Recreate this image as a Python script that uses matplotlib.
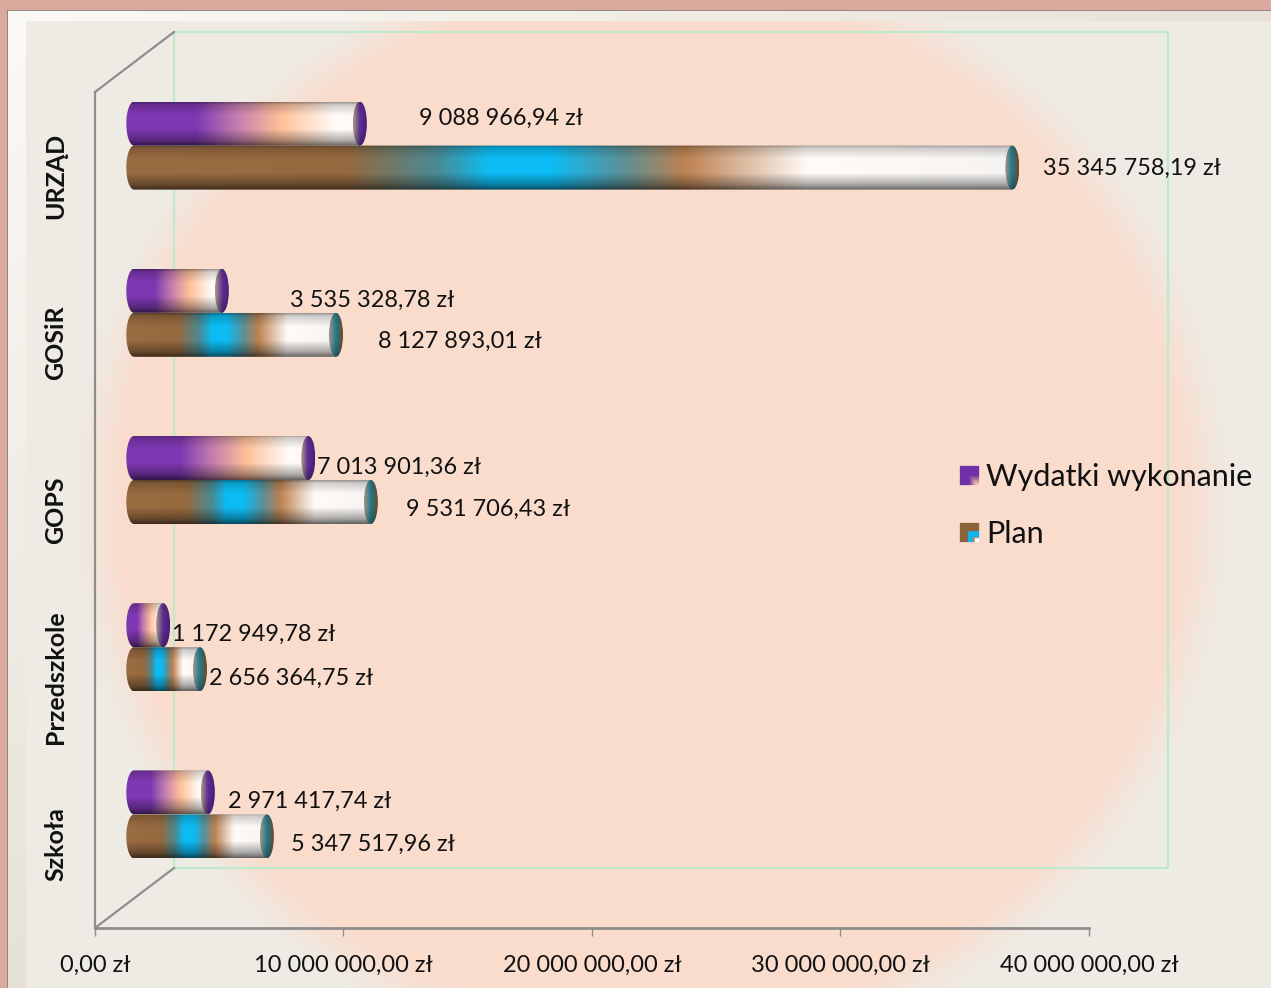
import numpy as np
import matplotlib
matplotlib.use("Agg")
import matplotlib.pyplot as plt
from matplotlib.colors import to_rgb
from matplotlib.patches import Rectangle, Ellipse, Polygon, Patch
from matplotlib.legend_handler import HandlerBase
from matplotlib.lines import Line2D

# ---- data ----
categories = ["Szkoła", "Przedszkole", "GOPS", "GOSiR", "URZĄD"]
wydatki = [2971417.74, 1172949.78, 7013901.36, 3535328.78, 9088966.94]
plan = [5347517.96, 2656364.75, 9531706.43, 8127893.01, 35345758.19]
series_names = ["Wydatki wykonanie", "Plan"]
x_ticks = [0, 10000000, 20000000, 30000000, 40000000]

# ---- layout (pixels) ----
W, H = 1271, 988
AX_L, AX_R, AX_T, AX_B = 95, 1089, 92, 928
XMAX = 40000000.0
PX_PER_X = (AX_R - AX_L) / XMAX
PX_PER_Y = (AX_B - AX_T) / 5.0
BAR_DX, BAR_DY = 39 / PX_PER_X, 30 / PX_PER_Y      # 3-D depth shift of the bars
WALL_DX, WALL_DY = 79 / PX_PER_X, 60 / PX_PER_Y    # 3-D depth shift of back wall
BAR_H = 44 / PX_PER_Y
CAP_W = 7 / PX_PER_X
FONT = ["Lato", "DejaVu Sans"]
GRAY = "#8E8E8E"

# label offsets from bar end, pixels
wyd_off = [(20, -9), (9, -9), (9, -9.5), (68, -10), (59, 5)]
plan_off = [(24, -8), (9, -9), (35, -7), (42, -7), (31, -1)]

# gradient stops
wyd_stops = [(0, "#8038B4"), (0.30, "#7E38B2"), (0.47, "#C27CB0"), (0.66, "#FFBF98"),
             (0.90, "#FFFDFA"), (1, "#FFF6F0")]
plan_stops = [(0, "#9A6C42"), (0.25, "#96693F"), (0.35, "#4A8A94"), (0.41, "#0CBCF4"),
              (0.48, "#0CBCF4"), (0.56, "#5C9098"), (0.63, "#BD8150"), (0.77, "#FFFBF8"),
              (1, "#F6F4F2")]
wyd_cap = ["#A89888", "#5E2E90", "#4A1E7C"]
plan_cap = ["#A09488", "#1F7A8C", "#6A4A2A"]

plt.rcParams["font.family"] = FONT
fig = plt.figure(figsize=(W / 100, H / 100), dpi=100)


# ---- background ----
def hexa(c):
    return np.array(to_rgb(c))


bg_ax = fig.add_axes([0, 0, 1, 1], zorder=0)
bg_ax.axis("off")
yy, xx = np.mgrid[0:H, 0:W]
panel = hexa("#EEEBE4")
peach = hexa("#FADCCD")
dist = np.sqrt(((xx - 652) / 555.0) ** 2 + ((yy - 506) / 539.0) ** 2)
t = np.clip((1.045 - dist) / 0.09, 0, 1)[..., None]
img = panel * (1 - t) + peach * t
top_c, bot_c = hexa("#FBFAF6"), hexa("#E8E1D8")
frame = top_c + (bot_c - top_c) * np.clip(xx / W + yy / H, 0, 1)[..., None]
mask = (xx < 26) | (yy < 22)
img[mask] = frame[mask]
edge = (xx < 8) | (yy < 12)
img[edge] = hexa("#8F8A86")
img[(xx < 7) | (yy < 11)] = hexa("#DCA99E")
bg_ax.imshow(img, aspect="auto", interpolation="nearest")

# ---- chart axes ----
ax = fig.add_axes([AX_L / W, 1 - AX_B / H, (AX_R - AX_L) / W, (AX_B - AX_T) / H], zorder=1)
ax.patch.set_alpha(0)
ax.set_xlim(0, XMAX)
ax.set_ylim(0, 5)
for s in ("top", "right"):
    ax.spines[s].set_visible(False)
ax.spines["left"].set_color(GRAY)
ax.spines["left"].set_linewidth(1.6)
ax.spines["bottom"].set_color(GRAY)
ax.spines["bottom"].set_linewidth(2)


def pl(v):
    s = f"{v:,.2f}".replace(",", " ").replace(".", ",")
    return s + " zł"


ax.set_xticks(x_ticks)
ax.set_xticklabels([pl(v) for v in x_ticks], fontsize=17, color="#111111")
ax.tick_params(axis="x", length=6, width=1, color=GRAY, pad=13)
y_pos = np.arange(len(categories)) + 0.5
ax.set_yticks(y_pos)
ax.set_yticklabels(categories, rotation=90, va="center", fontsize=18,
                   fontweight="bold", color="#111111")
ax.tick_params(axis="y", length=0, pad=20)

# walls
ax.add_patch(Rectangle((WALL_DX, WALL_DY), XMAX, 5, fill=False, ec="#BDEBC9", lw=1.5,
                       clip_on=False, zorder=1))
for y0 in (0, 5):
    ax.add_line(Line2D([0, WALL_DX], [y0, y0 + WALL_DY], color=GRAY, lw=1.6,
                       clip_on=False, zorder=2))


# ---- cylinders ----
def ramp(stops, n=400):
    p = [s[0] for s in stops]
    c = np.array([to_rgb(s[1]) for s in stops])
    u = np.linspace(0, 1, n)
    return np.stack([np.interp(u, p, c[:, i]) for i in range(3)], axis=1)


v = np.linspace(0, 1, 80)                       # 0 = top, 1 = bottom
shade = np.interp(v, [0, 0.06, 0.3, 0.62, 0.88, 1], [0.6, 0.82, 1.0, 1.0, 0.68, 0.4])[:, None, None]


def cylinder(y_low, value, stops, cap, z):
    x0 = BAR_DX
    x1 = BAR_DX + value
    y_c = y_low + BAR_H / 2
    body = ramp(stops)[None, :, :] * shade
    th = np.linspace(np.pi / 2, 3 * np.pi / 2, 40)
    pts = np.column_stack([x0 + 1.1 * CAP_W * np.cos(th), y_c + BAR_H / 2 * np.sin(th)])
    pts = np.vstack([pts, [x1, y_low], [x1, y_low + BAR_H]])
    clip = Polygon(pts, closed=True, transform=ax.transData, fc="none", ec="none")
    ax.add_patch(clip)
    im = ax.imshow(body, extent=(x0 - 1.1 * CAP_W, x1, y_low, y_low + BAR_H), aspect="auto",
                   origin="upper", zorder=z, interpolation="bilinear", clip_on=True)
    im.set_clip_path(clip)
    # end cap
    cap_rgb = ramp([(0, cap[0]), (0.5, cap[1]), (1, cap[2])], 30)[None, :, :] * (0.5 + 0.5 * shade)
    ell = Ellipse((x1, y_c), 2 * CAP_W, BAR_H, transform=ax.transData, fc="none", ec="none")
    ax.add_patch(ell)
    im2 = ax.imshow(cap_rgb, extent=(x1 - CAP_W, x1 + CAP_W, y_low, y_low + BAR_H), aspect="auto",
                    zorder=z + 0.1, interpolation="bilinear")
    im2.set_clip_path(ell)


for i, yp in enumerate(y_pos):
    base = yp + BAR_DY
    cylinder(base - BAR_H, plan[i], plan_stops, plan_cap, 3)
    cylinder(base, wydatki[i], wyd_stops, wyd_cap, 4)
    ax.annotate(pl(wydatki[i]), xy=(BAR_DX + wydatki[i], base + BAR_H / 2),
                xytext=wyd_off[i], textcoords="offset pixels", fontsize=16.9,
                va="center", ha="left", color="#111111", annotation_clip=False, zorder=6)
    ax.annotate(pl(plan[i]), xy=(BAR_DX + plan[i], base - BAR_H / 2),
                xytext=plan_off[i], textcoords="offset pixels", fontsize=16.9,
                va="center", ha="left", color="#111111", annotation_clip=False, zorder=6)
ax.set_xlim(0, XMAX)
ax.set_ylim(0, 5)


# ---- legend ----
class Swatch(HandlerBase):
    def __init__(self, kind):
        super().__init__()
        self.kind = kind

    def create_artists(self, legend, orig, xd, yd, width, height, fontsize, trans):
        n = 10
        s = min(width, height)
        arts = []
        pur, pch = hexa("#7030A8"), hexa("#FFC8A0")
        for r in range(n):
            for c in range(n):
                a = (c + 0.5) / n
                b = (n - r - 0.5) / n
                u = min(a, b)
                if self.kind == 0:
                    col = pur + (pch - pur) * min(max(u - 0.45, 0) / 0.45, 1)
                else:
                    col = (hexa("#8B6239") if u < 0.45 else hexa("#12B4EC") if u < 0.7
                           else hexa("#B89070") if u < 0.85 else hexa("#FFFFFF"))
                col = tuple(np.clip(col, 0, 1))
                arts.append(Rectangle((-xd + c * s / n, -yd + r * s / n), s / n, s / n,
                                      fc=col, ec=col, lw=0.2, transform=trans))
        return arts


h1, h2 = Patch(label=series_names[0]), Patch(label=series_names[1])
leg = fig.legend(handles=[h1, h2], loc="upper left", bbox_to_anchor=(951 / W, 1 - 454 / H),
                 frameon=False, fontsize=22, handlelength=0.62, handleheight=0.62,
                 handletextpad=0.22, labelspacing=0.945, borderpad=0.3, borderaxespad=0,
                 labelcolor="#111111",
                 handler_map={h1: Swatch(0), h2: Swatch(1)})
leg.set_zorder(7)

fig.savefig("out.png", dpi=100)
